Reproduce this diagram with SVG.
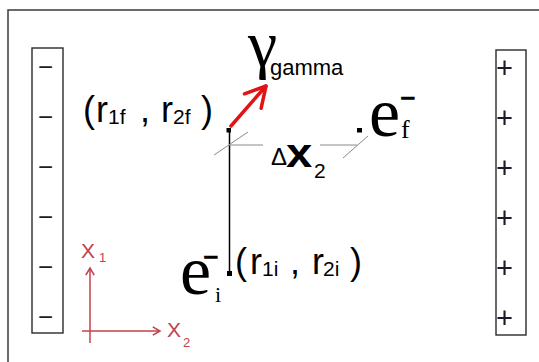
<svg xmlns="http://www.w3.org/2000/svg" width="539" height="362" viewBox="0 0 539 362">
<style>
.frame{fill:none;stroke:#3a3a3a;stroke-width:1.5}
.plate{fill:#fff;stroke:#2a2a2a;stroke-width:1.4}
.sign{font-family:"Liberation Sans",Arial,sans-serif;font-size:26px;fill:#1a1a2a}
.plus{font-family:"Liberation Sans",Arial,sans-serif;font-size:29px;fill:#1a1a2a}
.sans{font-family:"Liberation Sans",Arial,sans-serif;fill:#000}
.serif{font-family:"Liberation Serif","Times New Roman",serif;fill:#000}
.bar{font-family:"Liberation Sans",Arial,sans-serif;font-weight:bold;font-size:27px}
.big{font-size:36px}
.sub{font-size:21px}
.guide{stroke:#8a8a8a;stroke-width:1;fill:none}
.axis{stroke:#c4404e;stroke-width:1.5;fill:none}
.axislbl{font-family:"Liberation Sans",Arial,sans-serif;fill:#c4404e}
.dot{fill:#000}
</style>
<defs>
<marker id="redhead" markerUnits="userSpaceOnUse" markerWidth="30" markerHeight="30" refX="0" refY="0" viewBox="-24 -15 28 30" orient="auto">
<path d="M-20,-11 L0,0 L-20,11" fill="none" stroke="#e01414" stroke-width="3.5" stroke-linecap="round" stroke-linejoin="round"/>
</marker>
<marker id="axhead" markerUnits="userSpaceOnUse" markerWidth="12" markerHeight="12" refX="0" refY="0" viewBox="-8 -5 10 10" orient="auto">
<path d="M-6,-3.5 L0,0 L-6,3.5" fill="none" stroke="#c4404e" stroke-width="1.3"/>
</marker>
</defs>
<rect width="539" height="362" fill="#fff"/>
<path class="frame" d="M539,10 H8 V362"/>

<g id="plate-negative">
<rect class="plate" x="32" y="48" width="31" height="285"/>
<text class="sign" x="38" y="76">−</text>
<text class="sign" x="38" y="126">−</text>
<text class="sign" x="38" y="176">−</text>
<text class="sign" x="38" y="226">−</text>
<text class="sign" x="38" y="276">−</text>
<text class="sign" x="38" y="326">−</text>
</g>

<g id="plate-positive">
<rect class="plate" x="496" y="50" width="30" height="285"/>
<text class="plus" x="496" y="78">+</text>
<text class="plus" x="496" y="128">+</text>
<text class="plus" x="496" y="178">+</text>
<text class="plus" x="496" y="228">+</text>
<text class="plus" x="496" y="278">+</text>
<text class="plus" x="496" y="328">+</text>
</g>

<g id="connectors">
<line x1="229.5" y1="130" x2="229.5" y2="272" stroke="#000" stroke-width="1.5"/>
<line x1="231" y1="126" x2="266" y2="86" stroke="#e01414" stroke-width="3.5" stroke-linecap="round" marker-end="url(#redhead)"/>
<line class="guide" x1="229" y1="145" x2="263" y2="145"/>
<line class="guide" x1="214" y1="155" x2="248" y2="132"/>
<line class="guide" x1="320" y1="145" x2="357" y2="145"/>
<line class="guide" x1="343" y1="158" x2="368" y2="136"/>
</g>

<g id="point-final">
<rect class="dot" x="226.5" y="128" width="4.5" height="4.5"/>
<text class="sans big"><tspan x="83" y="122">(</tspan><tspan x="96" y="122">r</tspan><tspan class="sub" x="108" y="124">1f</tspan><tspan x="140" y="122">,</tspan><tspan x="161" y="122">r</tspan><tspan class="sub" x="173" y="124">2f</tspan><tspan x="201" y="122">)</tspan></text>
</g>

<g id="photon">
<text class="serif" font-size="66" x="248" y="66">γ</text>
<text class="sans" font-size="22" x="270" y="75">gamma</text>
</g>

<g id="electron-final">
<rect class="dot" x="357" y="128" width="5" height="4.5"/>
<text class="serif"><tspan font-size="70" x="369" y="136">e</tspan><tspan class="bar" x="400" y="107">−</tspan><tspan font-size="26" x="401" y="138">f</tspan></text>
</g>

<g id="delta-x2">
<text class="sans" font-size="24" x="271" y="165">Δ</text>
<text class="sans" font-size="40" font-weight="bold" transform="translate(286 167) scale(1.18 1)">x</text>
<text class="sans" font-size="21" x="314" y="178">2</text>
</g>

<g id="point-initial">
<rect class="dot" x="227" y="271" width="5" height="5"/>
<text class="serif"><tspan font-size="70" x="180" y="294">e</tspan><tspan class="bar" x="203" y="266">−</tspan><tspan font-size="22" x="215" y="302">i</tspan></text>
<text class="sans big"><tspan x="235" y="274">(</tspan><tspan x="250" y="274">r</tspan><tspan class="sub" x="262" y="276">1i</tspan><tspan x="290" y="274">,</tspan><tspan x="312" y="274">r</tspan><tspan class="sub" x="323" y="276">2i</tspan><tspan x="350" y="274">)</tspan></text>
</g>

<g id="axes">
<line class="axis" x1="90" y1="343" x2="90" y2="268" marker-end="url(#axhead)"/>
<line class="axis" x1="82" y1="331" x2="160" y2="331" marker-end="url(#axhead)"/>
<text class="axislbl"><tspan font-size="21" x="81" y="258">X</tspan><tspan font-size="13" x="99" y="262">1</tspan></text>
<text class="axislbl"><tspan font-size="21" x="167" y="337">X</tspan><tspan font-size="13" x="183" y="347">2</tspan></text>
</g>
</svg>
